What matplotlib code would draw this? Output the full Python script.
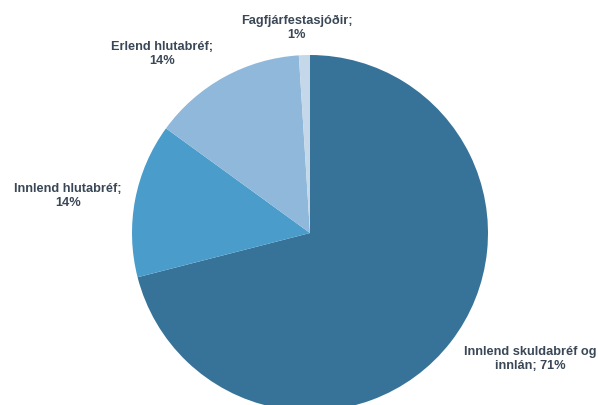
import matplotlib.pyplot as plt

labels = ['Innlend skuldabréf og\ninnlán; 71%', 'Innlend hlutabréf;\n14%',
          'Erlend hlutabréf;\n14%', 'Fagfjárfestasjóðir;\n1%']
values = [71, 14, 14, 1]
colors = ['#377399', '#4a9ccb', '#8fb8da', '#c4d8ea']
# label anchor points (pixels, origin bottom-left)
label_pos = [(530, 46), (68, 209), (162, 351), (297, 377)]

fig = plt.figure(figsize=(5.98, 4.05), dpi=100)
ax = fig.add_axes([0, 0, 1, 1])
ax.pie(values, colors=colors, startangle=90, counterclock=False,
       center=(310, 172), radius=178, frame=True,
       wedgeprops=dict(linewidth=0))
ax.set_xlim(0, 598)
ax.set_ylim(0, 405)
ax.set_aspect('equal')
ax.axis('off')

for lab, (x, y) in zip(labels, label_pos):
    ax.text(x, y, lab, ha='center', va='center', fontsize=9.2,
            fontweight='bold', color='#3a4756', family='Liberation Sans',
            linespacing=1.2)

fig.savefig('out.png', dpi=100)
